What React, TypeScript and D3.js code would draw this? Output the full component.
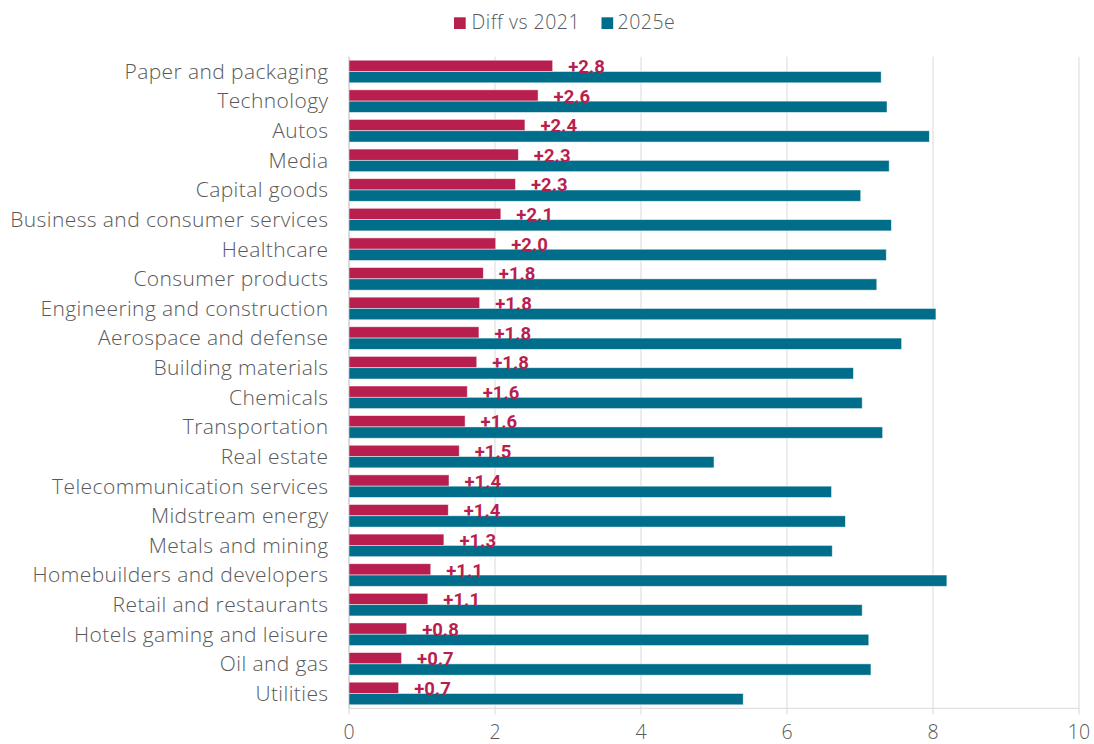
import React from "react";
import * as d3 from "d3";

const categories = [
  "Paper and packaging",
  "Technology",
  "Autos",
  "Media",
  "Capital goods",
  "Business and consumer services",
  "Healthcare",
  "Consumer products",
  "Engineering and construction",
  "Aerospace and defense",
  "Building materials",
  "Chemicals",
  "Transportation",
  "Real estate",
  "Telecommunication services",
  "Midstream energy",
  "Metals and mining",
  "Homebuilders and developers",
  "Retail and restaurants",
  "Hotels gaming and leisure",
  "Oil and gas",
  "Utilities",
];

const diffVs2021 = [
  2.79, 2.59, 2.41, 2.32, 2.28, 2.08, 2.01, 1.84, 1.79, 1.78, 1.75, 1.62, 1.59,
  1.51, 1.37, 1.36, 1.3, 1.12, 1.08, 0.79, 0.72, 0.68,
];
const diffLabels = [
  "+2.8", "+2.6", "+2.4", "+2.3", "+2.3", "+2.1", "+2.0", "+1.8", "+1.8", "+1.8", "+1.8",
  "+1.6", "+1.6", "+1.5", "+1.4", "+1.4", "+1.3", "+1.1", "+1.1", "+0.8", "+0.7", "+0.7",
];
const value2025e = [
  7.29, 7.37, 7.95, 7.4, 7.01, 7.43, 7.36, 7.23, 8.04, 7.57, 6.91, 7.03, 7.31,
  5.0, 6.61, 6.8, 6.62, 8.19, 7.03, 7.12, 7.15, 5.4,
];
const xTicks = [0, 2, 4, 6, 8, 10];
const seriesNames = ["Diff vs 2021", "2025e"];

const W = 1094;
const H = 744;
const COL_DIFF = "#B81F4E";
const COL_2025 = "#006E8A";
const GRID = "#D9D9D9";
const TEXT = "#595959";
const FONT = "'Open Sans', Roboto, sans-serif";
const BOLD_FONT = "Roboto, 'Open Sans', sans-serif";

export default function App() {
  const x = d3.scaleLinear().domain([0, 10]).range([349, 1079]);
  const y = d3
    .scaleBand<string>()
    .domain(categories)
    .range([56.7, 708.3])
    .paddingInner(0)
    .paddingOuter(0);
  const bw = y.bandwidth();
  const barH = 11.3;
  const pad = (bw - 2 * barH) / 2;

  return (
    <svg
      width={W}
      height={H}
      style={{ position: "absolute", left: 0, top: 0, background: "#fff" }}
      fontFamily={FONT}
    >
      {/* legend */}
      <g>
        <rect x={454} y={17.3} width={11.7} height={11.7} fill={COL_DIFF} />
        <text x={471.5} y={29.3} fontSize={19.5} letterSpacing={0.5} fill={TEXT} fontWeight={300}>
          {seriesNames[0]}
        </text>
        <rect x={601.5} y={17.3} width={11.7} height={11.7} fill={COL_2025} />
        <text x={617.5} y={29.3} fontSize={19.5} letterSpacing={0.5} fill={TEXT} fontWeight={300}>
          {seriesNames[1]}
        </text>
      </g>

      {/* gridlines */}
      {xTicks.map((t) => (
        <line
          key={"g" + t}
          x1={x(t)}
          x2={x(t)}
          y1={56.7}
          y2={714.5}
          stroke={GRID}
          strokeWidth={1}
        />
      ))}
      <line x1={349} x2={1079} y1={708.3} y2={708.3} stroke={GRID} strokeWidth={1} />
      <line x1={349} x2={349} y1={56.7} y2={708.3} stroke="#C8C8C8" strokeWidth={1} />

      {/* x tick labels */}
      {xTicks.map((t) => (
        <text
          key={"t" + t}
          x={x(t)}
          y={738.5}
          textAnchor="middle"
          fontSize={19.5}
          fill={TEXT}
          fontWeight={300}
        >
          {t}
        </text>
      ))}

      {/* category labels */}
      {categories.map((c) => (
        <text
          key={"c" + c}
          x={328.5}
          y={(y(c) as number) + bw / 2}
          dy="0.35em"
          textAnchor="end"
          fontSize={21}
          letterSpacing={0.4}
          fill={TEXT}
          fontWeight={300}
        >
          {c}
        </text>
      ))}

      {/* bars */}
      {categories.map((c, i) => {
        const y0 = (y(c) as number) + pad;
        return (
          <g key={"b" + c}>
            <rect
              x={x(0)}
              y={y0}
              width={x(diffVs2021[i]) - x(0)}
              height={barH}
              fill={COL_DIFF}
              stroke="#fff"
              strokeOpacity={0.6}
              strokeWidth={0.8}
            />
            <rect
              x={x(0)}
              y={y0 + barH}
              width={x(value2025e[i]) - x(0)}
              height={barH}
              fill={COL_2025}
              stroke="#fff"
              strokeOpacity={0.6}
              strokeWidth={0.8}
            />
            <text
              x={x(diffVs2021[i]) + 15.5}
              y={y0 + 12.8}
              fontSize={18.5}
              fontWeight={700}
              fontFamily={BOLD_FONT}
              fill={COL_DIFF}
            >
              {diffLabels[i]}
            </text>
          </g>
        );
      })}
    </svg>
  );
}
